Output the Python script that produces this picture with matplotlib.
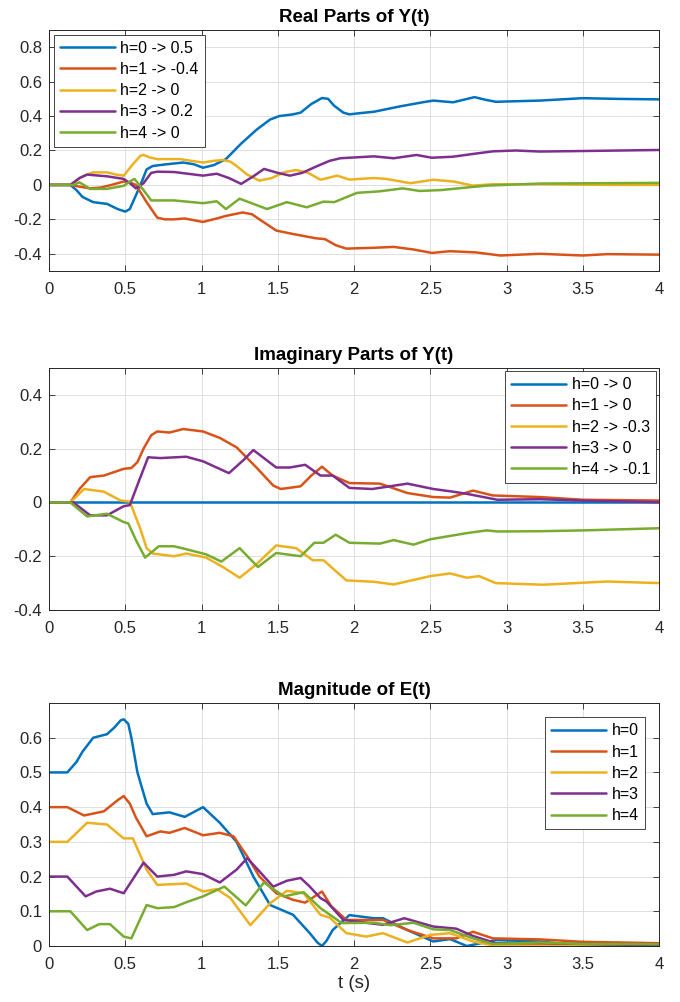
import matplotlib
matplotlib.use("Agg")
import matplotlib.pyplot as plt
from matplotlib.ticker import FuncFormatter

plt.rcParams['font.family'] = ['Liberation Sans', 'DejaVu Sans']

colors = ['#0072BD', '#D95319', '#EDB120', '#7E2F8E', '#77AC30']

# ---------------- Real parts of Y(t) ----------------
re_t0 = [0, 0.14, 0.18, 0.22, 0.29, 0.38, 0.45, 0.5, 0.53, 0.55, 0.6, 0.64, 0.68, 0.77, 0.88, 0.95, 1.01, 1.08, 1.16, 1.26, 1.36, 1.45, 1.51, 1.6, 1.65, 1.72, 1.79, 1.83, 1.87, 1.93, 1.97, 2.05, 2.13, 2.30, 2.45, 2.52, 2.65, 2.72, 2.79, 2.86, 2.93, 3.22, 3.50, 3.72, 4.0]
re_y0 = [0, 0, -0.03, -0.07, -0.1, -0.11, -0.14, -0.155, -0.14, -0.1, 0.0, 0.09, 0.11, 0.12, 0.13, 0.12, 0.10, 0.115, 0.15, 0.24, 0.32, 0.38, 0.40, 0.41, 0.42, 0.47, 0.505, 0.5, 0.46, 0.42, 0.41, 0.418, 0.425, 0.456, 0.48, 0.49, 0.48, 0.495, 0.51, 0.495, 0.483, 0.49, 0.504, 0.5, 0.497]
re_t1 = [0, 0.14, 0.2, 0.27, 0.34, 0.41, 0.49, 0.53, 0.57, 0.64, 0.71, 0.76, 0.815, 0.89, 0.95, 1.01, 1.1, 1.16, 1.27, 1.33, 1.38, 1.49, 1.60, 1.75, 1.81, 1.88, 1.95, 2.13, 2.26, 2.39, 2.51, 2.63, 2.80, 2.96, 3.22, 3.50, 3.66, 4.0]
re_y1 = [0, 0, -0.01, -0.02, -0.015, 0, 0.02, 0.015, 0.0, -0.1, -0.19, -0.2, -0.2, -0.195, -0.205, -0.215, -0.195, -0.18, -0.16, -0.17, -0.2, -0.265, -0.285, -0.31, -0.315, -0.35, -0.37, -0.365, -0.36, -0.375, -0.395, -0.385, -0.392, -0.41, -0.40, -0.41, -0.402, -0.405]
re_t2 = [0, 0.14, 0.22, 0.29, 0.38, 0.44, 0.49, 0.55, 0.6, 0.62, 0.66, 0.71, 0.86, 1.01, 1.08, 1.14, 1.19, 1.23, 1.30, 1.38, 1.46, 1.54, 1.62, 1.70, 1.78, 1.89, 1.97, 2.13, 2.21, 2.37, 2.52, 2.65, 2.78, 2.91, 3.22, 3.66, 4.0]
re_y2 = [0, 0, 0.05, 0.073, 0.073, 0.06, 0.054, 0.12, 0.17, 0.174, 0.16, 0.15, 0.15, 0.13, 0.14, 0.145, 0.135, 0.11, 0.06, 0.025, 0.04, 0.073, 0.087, 0.07, 0.03, 0.054, 0.031, 0.04, 0.035, 0.01, 0.03, 0.02, -0.004, 0.004, 0.004, 0, 0]
re_t3 = [0, 0.14, 0.2, 0.25, 0.38, 0.49, 0.53, 0.57, 0.62, 0.67, 0.71, 0.82, 1.01, 1.10, 1.18, 1.26, 1.34, 1.41, 1.5, 1.58, 1.66, 1.76, 1.84, 1.91, 2.13, 2.26, 2.41, 2.51, 2.65, 2.78, 2.91, 3.06, 3.22, 3.50, 4.0]
re_y3 = [0, 0, 0.04, 0.06, 0.05, 0.035, 0.01, -0.02, 0.01, 0.07, 0.077, 0.075, 0.054, 0.065, 0.04, 0.006, 0.05, 0.093, 0.07, 0.054, 0.07, 0.11, 0.14, 0.155, 0.166, 0.155, 0.174, 0.158, 0.164, 0.18, 0.195, 0.2, 0.194, 0.197, 0.203]
re_t4 = [0, 0.16, 0.2, 0.27, 0.38, 0.49, 0.53, 0.56, 0.62, 0.67, 0.82, 1.01, 1.10, 1.16, 1.25, 1.34, 1.43, 1.56, 1.69, 1.80, 1.87, 2.02, 2.17, 2.32, 2.43, 2.57, 2.74, 2.87, 3.22, 4.0]
re_y4 = [0, 0, 0.015, -0.023, -0.023, -0.005, 0.02, 0.035, -0.03, -0.09, -0.09, -0.106, -0.095, -0.14, -0.08, -0.11, -0.14, -0.1, -0.13, -0.097, -0.1, -0.046, -0.037, -0.02, -0.035, -0.03, -0.015, -0.004, 0.008, 0.012]
re_labels = ['h=0 -> 0.5', 'h=1 -> -0.4', 'h=2 -> 0', 'h=3 -> 0.2', 'h=4 -> 0']

# ---------------- Imaginary parts of Y(t) ----------------
im_t0 = [0, 4.0]
im_y0 = [0, 0]
im_t1 = [0, 0.14, 0.2, 0.27, 0.36, 0.49, 0.54, 0.58, 0.62, 0.67, 0.71, 0.79, 0.88, 1.01, 1.12, 1.23, 1.36, 1.47, 1.52, 1.65, 1.72, 1.79, 1.86, 1.97, 2.17, 2.35, 2.52, 2.63, 2.78, 2.91, 3.22, 3.50, 4.0]
im_y1 = [0, 0, 0.05, 0.094, 0.10, 0.125, 0.128, 0.15, 0.2, 0.25, 0.264, 0.26, 0.273, 0.264, 0.24, 0.205, 0.13, 0.063, 0.05, 0.06, 0.1, 0.133, 0.1, 0.072, 0.07, 0.035, 0.02, 0.018, 0.044, 0.026, 0.02, 0.01, 0.007]
im_t2 = [0, 0.14, 0.23, 0.36, 0.47, 0.53, 0.6, 0.64, 0.68, 0.82, 0.90, 1.03, 1.14, 1.25, 1.36, 1.49, 1.62, 1.73, 1.80, 1.95, 2.13, 2.26, 2.50, 2.63, 2.74, 2.82, 2.93, 3.24, 3.66, 4.0]
im_y2 = [0, 0, 0.05, 0.04, 0.007, 0.003, -0.1, -0.17, -0.19, -0.2, -0.19, -0.205, -0.24, -0.28, -0.23, -0.16, -0.17, -0.215, -0.215, -0.29, -0.295, -0.305, -0.274, -0.264, -0.28, -0.274, -0.3, -0.306, -0.294, -0.3]
im_t3 = [0, 0.16, 0.27, 0.38, 0.49, 0.53, 0.59, 0.65, 0.73, 0.90, 1.01, 1.18, 1.28, 1.34, 1.49, 1.58, 1.68, 1.78, 1.86, 1.97, 2.12, 2.35, 2.52, 2.65, 2.74, 2.94, 3.22, 3.50, 4.0]
im_y3 = [0, 0, -0.048, -0.048, -0.014, -0.01, 0.08, 0.168, 0.165, 0.17, 0.153, 0.109, 0.16, 0.195, 0.13, 0.13, 0.14, 0.1, 0.1, 0.054, 0.05, 0.07, 0.05, 0.04, 0.032, 0.01, 0.012, 0.007, 0.001]
im_t4 = [0, 0.14, 0.25, 0.38, 0.49, 0.52, 0.57, 0.63, 0.72, 0.82, 0.90, 1.03, 1.13, 1.25, 1.37, 1.49, 1.65, 1.74, 1.80, 1.88, 1.97, 2.17, 2.26, 2.39, 2.50, 2.74, 2.87, 2.94, 3.22, 3.50, 4.0]
im_y4 = [0, 0, -0.052, -0.042, -0.073, -0.078, -0.14, -0.205, -0.163, -0.163, -0.174, -0.193, -0.22, -0.17, -0.24, -0.188, -0.2, -0.15, -0.15, -0.12, -0.15, -0.153, -0.14, -0.157, -0.137, -0.114, -0.104, -0.108, -0.107, -0.104, -0.096]
im_labels = ['h=0 -> 0', 'h=1 -> 0', 'h=2 -> -0.3', 'h=3 -> 0', 'h=4 -> -0.1']

# ---------------- Magnitude of E(t) ----------------
e_t0 = [0, 0.12, 0.18, 0.22, 0.29, 0.38, 0.43, 0.47, 0.49, 0.52, 0.54, 0.58, 0.64, 0.68, 0.79, 0.89, 1.01, 1.12, 1.23, 1.34, 1.45, 1.60, 1.71, 1.76, 1.79, 1.82, 1.86, 1.97, 2.13, 2.19, 2.35, 2.52, 2.63, 2.74, 2.83, 2.93, 3.22, 3.50, 4.0]
e_y0 = [0.5, 0.5, 0.53, 0.56, 0.6, 0.61, 0.63, 0.65, 0.653, 0.64, 0.6, 0.5, 0.41, 0.38, 0.385, 0.372, 0.40, 0.355, 0.30, 0.2, 0.118, 0.09, 0.037, 0.01, 0.0, 0.015, 0.046, 0.089, 0.08, 0.08, 0.046, 0.013, 0.02, 0.0, 0.008, 0.017, 0.013, 0.0, 0.004]
e_t1 = [0, 0.12, 0.23, 0.36, 0.45, 0.49, 0.53, 0.57, 0.64, 0.73, 0.79, 0.89, 1.01, 1.12, 1.21, 1.30, 1.38, 1.49, 1.60, 1.68, 1.79, 1.85, 1.95, 2.19, 2.35, 2.52, 2.67, 2.78, 2.91, 3.22, 3.50, 3.76, 4.0]
e_y1 = [0.4, 0.4, 0.376, 0.388, 0.42, 0.432, 0.41, 0.37, 0.316, 0.33, 0.326, 0.34, 0.319, 0.326, 0.316, 0.258, 0.2, 0.152, 0.133, 0.125, 0.157, 0.115, 0.075, 0.075, 0.046, 0.022, 0.022, 0.041, 0.022, 0.019, 0.012, 0.01, 0.008]
e_t2 = [0, 0.12, 0.25, 0.38, 0.49, 0.55, 0.64, 0.71, 0.90, 1.01, 1.10, 1.19, 1.32, 1.45, 1.56, 1.67, 1.78, 1.84, 1.95, 2.08, 2.19, 2.35, 2.50, 2.63, 2.78, 2.93, 3.22, 4.0]
e_y2 = [0.3, 0.3, 0.355, 0.35, 0.31, 0.31, 0.22, 0.176, 0.18, 0.157, 0.164, 0.138, 0.06, 0.123, 0.159, 0.152, 0.09, 0.082, 0.037, 0.027, 0.037, 0.01, 0.032, 0.037, 0.013, 0.0, 0.003, 0.003]
e_t3 = [0, 0.12, 0.24, 0.31, 0.40, 0.49, 0.62, 0.71, 0.82, 0.90, 1.01, 1.12, 1.23, 1.30, 1.38, 1.47, 1.56, 1.65, 1.71, 1.78, 1.82, 1.93, 2.19, 2.33, 2.52, 2.67, 2.78, 2.93, 3.22, 3.50, 4.0]
e_y3 = [0.2, 0.2, 0.143, 0.157, 0.165, 0.152, 0.24, 0.2, 0.205, 0.215, 0.207, 0.183, 0.22, 0.253, 0.215, 0.171, 0.188, 0.196, 0.171, 0.138, 0.128, 0.075, 0.061, 0.08, 0.056, 0.05, 0.029, 0.008, 0.008, 0.006, 0.002]
e_t4 = [0, 0.14, 0.25, 0.33, 0.40, 0.49, 0.54, 0.64, 0.71, 0.82, 0.90, 1.01, 1.15, 1.29, 1.41, 1.54, 1.67, 1.78, 1.92, 2.13, 2.24, 2.39, 2.52, 2.63, 2.78, 2.91, 3.22, 3.50, 4.0]
e_y4 = [0.1, 0.1, 0.046, 0.063, 0.063, 0.027, 0.022, 0.118, 0.109, 0.112, 0.126, 0.143, 0.171, 0.117, 0.183, 0.143, 0.155, 0.109, 0.066, 0.067, 0.06, 0.067, 0.048, 0.046, 0.022, 0.006, 0.01, 0.006, 0.005]
e_labels = ['h=0', 'h=1', 'h=2', 'h=3', 'h=4']

x_ticks = [0, 0.5, 1, 1.5, 2, 2.5, 3, 3.5, 4]

fig = plt.figure(figsize=(6.8, 10.02), dpi=100)
L, W = 49 / 680, (659 - 49) / 680
def box(top, bot):
    return [L, 1 - bot / 1002, W, (bot - top) / 1002]

ax1 = fig.add_axes(box(30, 271))
ax2 = fig.add_axes(box(368, 610))
ax3 = fig.add_axes(box(703, 946))

fmt = FuncFormatter(lambda v, p: '%g' % round(v, 6))
gray = '#262626'

panels = [
    (ax1, [(re_t0, re_y0), (re_t1, re_y1), (re_t2, re_y2), (re_t3, re_y3), (re_t4, re_y4)], re_labels,
     'Real Parts of Y(t)', (-0.5, 0.9), [-0.4, -0.2, 0, 0.2, 0.4, 0.6, 0.8], 'upper left', 0.3),
    (ax2, [(im_t0, im_y0), (im_t1, im_y1), (im_t2, im_y2), (im_t3, im_y3), (im_t4, im_y4)], im_labels,
     'Imaginary Parts of Y(t)', (-0.4, 0.5), [-0.4, -0.2, 0, 0.2, 0.4], 'upper right', 0.2),
    (ax3, [(e_t0, e_y0), (e_t1, e_y1), (e_t2, e_y2), (e_t3, e_y3), (e_t4, e_y4)], e_labels,
     'Magnitude of E(t)', (0, 0.7), [0, 0.1, 0.2, 0.3, 0.4, 0.5, 0.6], 'upper right', 0.9),
]

for ax, series, labels, title, ylim, yticks, loc, pad in panels:
    for (t, y), c, lab in zip(series, colors, labels):
        ax.plot(t, y, color=c, lw=1.8, label=lab, solid_joinstyle='round', solid_capstyle='round')
    ax.set_xlim(0, 4)
    ax.set_ylim(*ylim)
    ax.set_xticks(x_ticks)
    ax.set_yticks(yticks)
    ax.xaxis.set_major_formatter(fmt)
    ax.yaxis.set_major_formatter(fmt)
    ax.grid(True, color='#dedede', lw=0.7)
    ax.set_axisbelow(True)
    ax.tick_params(direction='in', top=True, right=True, length=4, width=0.6,
                   colors=gray, labelsize=12, labelcolor=gray)
    ax.tick_params(axis='x', pad=8)
    ax.tick_params(axis='y', pad=5)
    for s in ax.spines.values():
        s.set_color(gray)
        s.set_linewidth(0.7)
    ax.set_title(title, fontsize=13.5, fontweight='bold', color='black', pad=6)
    leg = ax.legend(loc=loc, fontsize=11.5, handlelength=3.45, labelspacing=0.39,
                    borderpad=0.37, borderaxespad=pad, fancybox=False, framealpha=1,
                    edgecolor=gray, handletextpad=0.35)
    leg.get_frame().set_linewidth(0.6)

ax3.set_xlabel('t (s)', fontsize=13.5, color=gray, labelpad=2)

fig.savefig('out.png', dpi=100)
